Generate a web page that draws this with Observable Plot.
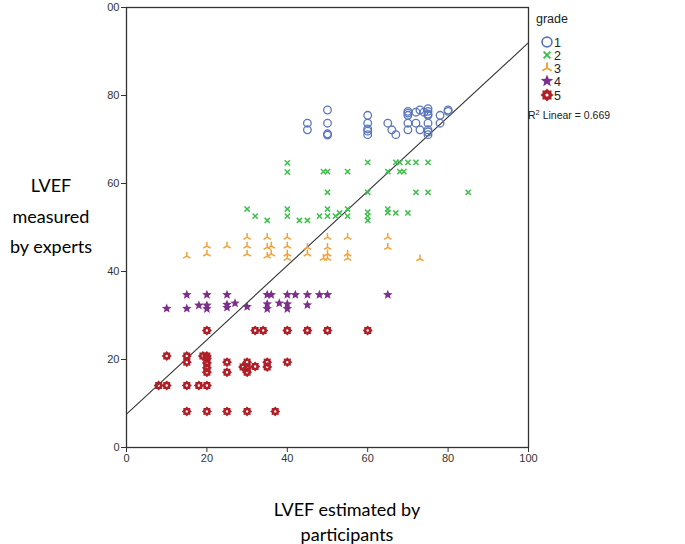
<!DOCTYPE html>
<html>
<head>
<meta charset="utf-8">
<script src="https://cdn.jsdelivr.net/npm/d3@7"></script>
<script src="https://cdn.jsdelivr.net/npm/@observablehq/plot@0.6"></script>
<style>
  html, body { margin: 0; padding: 0; background: #fff; }
</style>
</head>
<body>
<div id="chart"></div>
<script>
// Axis ticks
const xTicks = [0, 20, 40, 60, 80, 100];
const yTicks = [0, 20, 40, 60, 80, 100];
const yTickLabels = ["0", "20", "40", "60", "80", "00"];

// Legend
const grades = ["1", "2", "3", "4", "5"];
const gradeColors = ["#5a76bd", "#3dbf4c", "#f2a23a", "#7d2f8c", "#b01f28"];
const r2Text = " Linear = 0.669";

// Fit line
const fitX = [0, 100];
const fitY = [7.6, 92.0];

// Points per grade: [estimated by participants, measured by experts]
const grade1 = [[45,73.7],[45,72.2],[50,76.7],[50,73.7],[50,71.3],[50,71.0],[60,75.5],[60,73.7],[60,72.4],[60,71.9],[60,71.1],[65,73.7],[66,72.2],[67,71.1],[70,76.4],[70,76.0],[70,75.5],[70,73.7],[70,72.2],[72,76.2],[72,73.7],[73,76.7],[73,72.2],[74,76.2],[75,77.0],[75,76.4],[75,75.8],[75,75.5],[75,73.7],[75,72.2],[75,71.7],[75,71.1],[78,75.5],[78,73.7],[80,76.7],[80,76.4]];
const grade2 = [[30,54.2],[32,52.6],[35,51.6],[40,64.7],[40,62.6],[40,54.2],[40,52.6],[43,51.6],[45,51.6],[48,52.6],[49,62.7],[50,62.7],[50,58.0],[50,54.2],[50,52.6],[52,52.6],[53,53.3],[55,62.7],[55,54.2],[55,52.6],[60,64.8],[60,58.0],[60,53.5],[60,52.6],[60,51.6],[65,62.7],[65,54.2],[65,53.4],[67,64.8],[67,53.3],[68,64.8],[68,62.7],[69,62.7],[70,64.8],[70,53.3],[72,64.8],[72,58.0],[75,64.8],[75,58.0],[85,58.0]];
const grade3 = [[15,43.5],[20,45.8],[20,44.0],[25,45.8],[30,47.8],[30,45.8],[30,44.0],[35,47.8],[35,45.5],[35,43.5],[36,45.8],[36,44.0],[40,47.8],[40,45.8],[40,44.0],[40,43.0],[45,45.5],[45,44.0],[49,43.0],[50,47.8],[50,45.5],[50,44.0],[50,43.0],[55,47.8],[55,44.0],[55,43.0],[65,47.8],[65,45.5],[73,42.9]];
const grade4 = [[10,31.6],[15,34.7],[15,31.6],[18,32.3],[20,34.7],[20,32.3],[20,31.5],[25,34.7],[25,32.5],[25,31.8],[27,32.8],[30,32.0],[35,34.7],[35,32.6],[35,31.5],[36,34.7],[38,32.8],[40,34.7],[40,32.6],[40,31.5],[42,34.7],[45,34.7],[45,32.4],[48,34.7],[50,34.7],[65,34.7]];
const grade5 = [[8,14.1],[10,20.8],[10,14.1],[15,20.8],[15,19.4],[15,14.1],[15,8.2],[18,14.1],[19,20.8],[20,26.6],[20,20.8],[20,20.2],[20,19.2],[20,18.1],[20,17.1],[20,14.1],[20,8.2],[25,19.4],[25,17.1],[25,8.2],[29,18.3],[30,19.4],[30,18.1],[30,17.1],[30,8.2],[32,26.6],[32,18.4],[34,26.6],[35,19.4],[35,18.3],[37,8.2],[40,26.6],[40,19.4],[45,26.6],[50,26.6],[60,26.6]];

// Custom symbols
const symCircle = { draw(ctx) { ctx.moveTo(3.8, 0); ctx.arc(0, 0, 3.8, 0, 2 * Math.PI); } };
const symTimes = { draw(ctx) { const a = 2.6; ctx.moveTo(-a, -a); ctx.lineTo(a, a); ctx.moveTo(-a, a); ctx.lineTo(a, -a); } };
const symTripod = { draw(ctx) {
  const a = 4.2;
  ctx.moveTo(0, 0); ctx.lineTo(0, -a);
  ctx.moveTo(0, 0); ctx.lineTo(-a * Math.sin(Math.PI / 3), a * Math.cos(Math.PI / 3));
  ctx.moveTo(0, 0); ctx.lineTo(a * Math.sin(Math.PI / 3), a * Math.cos(Math.PI / 3));
} };
const symStar = { draw(ctx) {
  const R = 5.0, r = 2.2;
  for (let i = 0; i < 10; i++) {
    const ang = -Math.PI / 2 + i * Math.PI / 5;
    const rad = i % 2 ? r : R;
    const x = rad * Math.cos(ang), y = rad * Math.sin(ang);
    if (i === 0) ctx.moveTo(x, y); else ctx.lineTo(x, y);
  }
  ctx.closePath();
} };
const symGear = { draw(ctx) {
  const R = 5.0, r = 3.7, n = 8;
  for (let i = 0; i < 2 * n; i++) {
    const ang = i * Math.PI / n;
    const rad = i % 2 ? r : R;
    const x = rad * Math.cos(ang), y = rad * Math.sin(ang);
    if (i === 0) ctx.moveTo(x, y); else ctx.lineTo(x, y);
  }
  ctx.closePath();
  ctx.moveTo(1.2, 0);
  ctx.arc(0, 0, 1.2, 0, 2 * Math.PI, true);
  ctx.closePath();
} };

const symbols = [symCircle, symTimes, symTripod, symStar, symGear];
const fills = ["none", "none", "none", gradeColors[3], gradeColors[4]];
const strokes = [gradeColors[0], gradeColors[1], gradeColors[2], "none", "none"];
const strokeWidths = [1.3, 1.5, 1.5, 0, 0];
const series = [grade1, grade2, grade3, grade4, grade5];

const W = 685, H = 544;
const mL = 126, mR = 157, mT = 7, mB = 97;

const dotMarks = series.map((pts, i) => Plot.dot(pts, {
  x: d => d[0], y: d => d[1],
  symbol: symbols[i], r: 4,
  fill: fills[i], stroke: strokes[i], strokeWidth: strokeWidths[i]
}));

const fitData = fitX.map((x, i) => ({ x, y: fitY[i] }));

const chart = Plot.plot({
  width: W, height: H,
  marginLeft: mL, marginRight: mR, marginTop: mT, marginBottom: mB,
  style: { fontFamily: "Liberation Sans, Arial, sans-serif", fontSize: "11px", color: "#333", background: "#fff" },
  x: { domain: [0, 100] },
  y: { domain: [0, 100] },
  marks: [
    Plot.axisX({ ticks: xTicks, tickSize: 5, tickPadding: 2, label: null, stroke: "#333" }),
    Plot.axisY({ ticks: yTicks, tickSize: 5, tickPadding: 2, label: null, stroke: "#333",
                 tickFormat: d => yTickLabels[yTicks.indexOf(d)] }),
    Plot.frame({ stroke: "#333", strokeWidth: 1.3 }),
    Plot.line(fitData, { x: "x", y: "y", stroke: "#333", strokeWidth: 1.1 }),
    ...dotMarks
  ]
});

document.getElementById("chart").appendChild(chart);

// Legend and labels
const svg = d3.select(chart);
const leg = svg.append("g").attr("font-family", "Liberation Sans, Arial, sans-serif")
  .attr("fill", "#222").attr("text-anchor", "start");
leg.append("text").attr("x", 536).attr("y", 23).attr("font-size", 12.5).text("grade");
const legY = [42, 55, 68, 81, 95];
grades.forEach((g, i) => {
  const p = d3.path(); symbols[i].draw(p);
  leg.append("path").attr("d", p.toString())
    .attr("transform", `translate(547,${legY[i]}) scale(1.3)`)
    .attr("fill", fills[i]).attr("stroke", strokes[i]).attr("stroke-width", strokeWidths[i]);
  leg.append("text").attr("x", 554).attr("y", legY[i] + 4.5).attr("font-size", 12.5).text(g);
});
const r2 = leg.append("text").attr("x", 528).attr("y", 119).attr("font-size", 10.5);
r2.append("tspan").text("R");
r2.append("tspan").attr("font-size", 7.5).attr("dy", -4).text("2");
r2.append("tspan").attr("dy", 4).text(r2Text);

const lab = svg.append("g").attr("font-family", "Lato, 'Open Sans', sans-serif").attr("font-size", 18)
  .attr("fill", "#000").attr("text-anchor", "middle");
[["LVEF", 192], ["measured", 223], ["by experts", 253]].forEach(([t, y]) =>
  lab.append("text").attr("x", 51).attr("y", y).text(t));
[["LVEF estimated by", 516], ["participants", 541]].forEach(([t, y]) =>
  lab.append("text").attr("x", 347).attr("y", y).text(t));
</script>
</body>
</html>
